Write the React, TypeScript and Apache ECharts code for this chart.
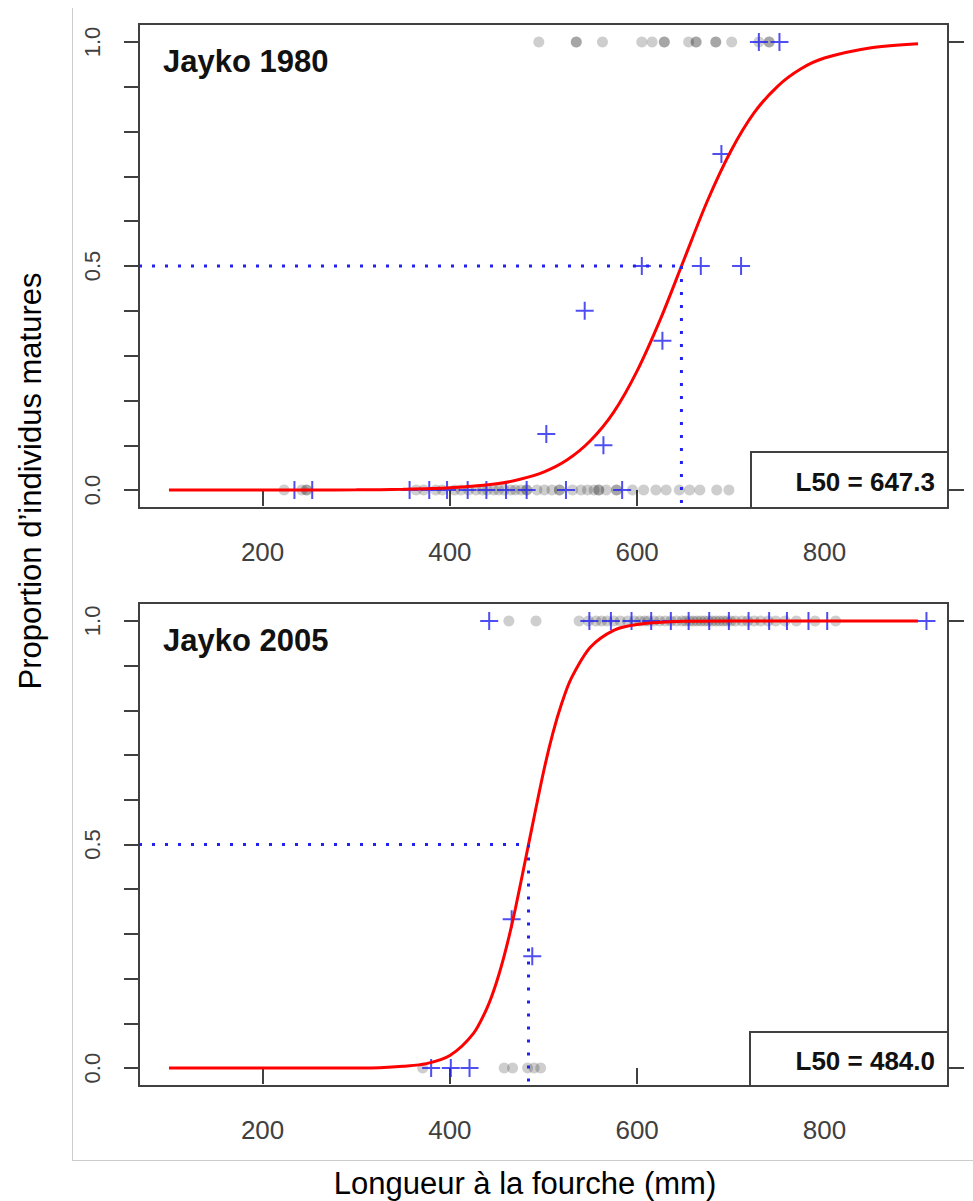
import React, { useEffect, useRef } from "react";
import * as echarts from "echarts";

// ---- Jayko 1980 ----
const L50_1980 = 647.3;
// fitted logistic maturity curve, read at these fork lengths
const fitLen1980 = [100, 150, 200, 250, 300, 350, 400, 450, 475, 500, 525, 550, 575, 600, 625, 650, 675, 700, 725, 750, 775, 800, 850, 900];
const fitProp1980 = [0, 0, 0.0001, 0.0002, 0.0006, 0.0017, 0.005, 0.014, 0.024, 0.04, 0.067, 0.11, 0.174, 0.266, 0.382, 0.514, 0.645, 0.756, 0.842, 0.901, 0.94, 0.964, 0.987, 0.996];
// individual fish (0 = immature, 1 = mature)
const fishMature1980 = [495, 535, 535, 563, 605, 616, 629, 629, 655, 663, 663, 684, 684, 701, 730, 741, 741];
const fishImmature1980 = [223, 242, 247, 247, 364, 372, 385, 392, 405, 412, 420, 428, 435, 440, 447, 452, 458, 465, 470, 476, 482, 482, 493, 501, 509, 517, 517, 531, 540, 547, 554, 559, 559, 567, 578, 578, 595, 607, 620, 631, 645, 656, 667, 685, 698];
// proportion mature per length class
const classLen1980 = [234, 253, 357, 378, 397, 419, 439, 460, 482, 524, 584, 503, 564, 544, 627, 605, 668, 711, 690, 730, 752];
const classProp1980 = [0, 0, 0, 0, 0, 0, 0, 0, 0, 0, 0, 0.125, 0.1, 0.4, 0.333, 0.5, 0.5, 0.5, 0.75, 1, 1];

// ---- Jayko 2005 ----
const L50_2005 = 484.0;
const fitLen2005 = [100, 200, 300, 325, 350, 375, 400, 425, 440, 450, 460, 470, 484, 500, 510, 520, 530, 550, 575, 600, 650, 700, 800, 900];
const fitProp2005 = [0, 0, 0.0004, 0.001, 0.004, 0.01, 0.028, 0.077, 0.136, 0.193, 0.267, 0.357, 0.5, 0.662, 0.749, 0.819, 0.873, 0.941, 0.979, 0.992, 0.999, 1, 1, 1];
const fishMature2005 = [463, 492, 538, 548, 556, 562, 568, 575, 582, 590, 597, 603, 608, 612, 618, 624, 630, 636, 642, 648, 652, 656, 660, 664, 668, 672, 676, 680, 684, 688, 692, 696, 700, 705, 712, 718, 725, 732, 740, 748, 758, 770, 790, 812];
const fishImmature2005 = [371, 458, 467, 483, 490, 497];
const classLen2005 = [380, 401, 421, 466, 488, 442, 549, 572, 594, 615, 636, 655, 677, 698, 719, 741, 760, 783, 803, 909];
const classProp2005 = [0, 0, 0, 0.333, 0.25, 1, 1, 1, 1, 1, 1, 1, 1, 1, 1, 1, 1, 1, 1, 1];

// axis ticks
const xTicks = [200, 400, 600, 800];
const yMinorTicks = [0, 0.1, 0.2, 0.3, 0.4, 0.5, 0.6, 0.7, 0.8, 0.9, 1];
const yLabels = [0, 0.5, 1];
const X_MIN = 68;
const X_MAX = 932;

const FONT = "Liberation Sans, Arial, sans-serif";
const AXIS_COLOR = "#404040";
const BLUE = "#2222f0";
const PLUS = "path://M0,-10V10M-10,0H10";

function panelSeries(
  idx: number,
  l50: number,
  fitLen: number[],
  fitProp: number[],
  mature: number[],
  immature: number[],
  clsLen: number[],
  clsProp: number[]
) {
  const fish = [...immature.map((v) => [v, 0]), ...mature.map((v) => [v, 1])];
  const dotted = { color: BLUE, width: 3, type: [3, 10] as number[], cap: "butt" as const };
  return [
    {
      type: "scatter",
      xAxisIndex: idx,
      yAxisIndex: idx * 2,
      data: fish,
      symbol: "circle",
      symbolSize: 11,
      itemStyle: { color: "rgba(0,0,0,0.24)" },
      z: 2,
    },
    {
      type: "scatter",
      xAxisIndex: idx,
      yAxisIndex: idx * 2,
      data: clsLen.map((v, i) => [v, clsProp[i]]),
      symbol: PLUS,
      symbolSize: 18,
      itemStyle: { color: "none", borderColor: BLUE, borderWidth: 2 },
      z: 3,
    },
    {
      type: "line",
      xAxisIndex: idx,
      yAxisIndex: idx * 2,
      data: fitLen.map((v, i) => [v, fitProp[i]]),
      showSymbol: false,
      smooth: 0.3,
      lineStyle: { color: "#ff0000", width: 3 },
      z: 4,
    },
    {
      type: "line",
      xAxisIndex: idx,
      yAxisIndex: idx * 2,
      data: [
        [X_MIN, 0.5],
        [l50, 0.5],
      ],
      showSymbol: false,
      lineStyle: dotted,
      z: 5,
    },
    {
      type: "line",
      xAxisIndex: idx,
      yAxisIndex: idx * 2,
      data: [
        [l50, 0.5],
        [l50, -0.03],
      ],
      showSymbol: false,
      lineStyle: dotted,
      z: 5,
    },
  ];
}

function xAxis(idx: number) {
  return {
    type: "value",
    gridIndex: idx,
    min: X_MIN,
    max: X_MAX,
    axisLine: { show: false },
    splitLine: { show: false },
    axisTick: { show: true, customValues: xTicks, length: 16, lineStyle: { color: AXIS_COLOR, width: 2 } },
    axisLabel: { customValues: xTicks, fontSize: 26, color: AXIS_COLOR, fontFamily: FONT, margin: 31 },
  };
}

function yAxes(idx: number) {
  return [
    {
      type: "value",
      gridIndex: idx,
      position: "left",
      min: -0.04,
      max: 1.04,
      axisLine: { show: false },
      splitLine: { show: false },
      axisTick: { show: true, customValues: yMinorTicks, length: 15, lineStyle: { color: AXIS_COLOR, width: 2 } },
      axisLabel: {
        customValues: yLabels,
        formatter: (v: number) => v.toFixed(1),
        rotate: 90,
        fontSize: 22,
        color: AXIS_COLOR,
        fontFamily: FONT,
        margin: 36,
      },
    },
    {
      type: "value",
      gridIndex: idx,
      position: "right",
      min: -0.04,
      max: 1.04,
      axisLine: { show: false },
      splitLine: { show: false },
      axisTick: { show: true, customValues: [0, 1], length: 16, lineStyle: { color: AXIS_COLOR, width: 2 } },
      axisLabel: { show: false },
    },
  ];
}

function l50Box(x: number, y: number, w: number, h: number, l50: number) {
  return [
    {
      type: "rect",
      shape: { x, y, width: w, height: h },
      style: { fill: "#ffffff", stroke: AXIS_COLOR, lineWidth: 2 },
      z: 100,
    },
    {
      type: "text",
      x: x + w - 13,
      y: y + h / 2 + 2,
      style: {
        text: `L50 = ${l50.toFixed(1)}`,
        font: `bold 26px ${FONT}`,
        fill: "#111111",
        textAlign: "right",
        textVerticalAlign: "middle",
      },
      z: 101,
    },
  ];
}

export default function App() {
  const ref = useRef<HTMLDivElement>(null);

  useEffect(() => {
    document.body.style.margin = "0";
    if (!ref.current) return;
    const chart = echarts.init(ref.current, undefined, { renderer: "svg" });
    chart.setOption({
      animation: false,
      backgroundColor: "#ffffff",
      grid: [
        { left: 139, top: 24, width: 809, height: 484, show: true, borderColor: AXIS_COLOR, borderWidth: 2, containLabel: false },
        { left: 139, top: 603, width: 809, height: 483, show: true, borderColor: AXIS_COLOR, borderWidth: 2, containLabel: false },
      ],
      xAxis: [xAxis(0), xAxis(1)],
      yAxis: [...yAxes(0), ...yAxes(1)],
      series: [
        ...panelSeries(0, L50_1980, fitLen1980, fitProp1980, fishMature1980, fishImmature1980, classLen1980, classProp1980),
        ...panelSeries(1, L50_2005, fitLen2005, fitProp2005, fishMature2005, fishImmature2005, classLen2005, classProp2005),
      ],
      graphic: [
        // light frame around the figure
        { type: "line", shape: { x1: 72.5, y1: 8, x2: 72.5, y2: 1160 }, style: { stroke: "#cccccc", lineWidth: 1 } },
        { type: "line", shape: { x1: 72, y1: 1160.5, x2: 973, y2: 1160.5 }, style: { stroke: "#cccccc", lineWidth: 1 } },
        // panel titles
        {
          type: "text",
          x: 163,
          y: 61,
          style: { text: "Jayko 1980", font: `bold 31px ${FONT}`, fill: "#111111", textVerticalAlign: "middle" },
          z: 100,
        },
        {
          type: "text",
          x: 163,
          y: 640,
          style: { text: "Jayko 2005", font: `bold 31px ${FONT}`, fill: "#111111", textVerticalAlign: "middle" },
          z: 100,
        },
        ...l50Box(751, 452, 197, 56, L50_1980),
        ...l50Box(750, 1032, 198, 54, L50_2005),
        // axis titles
        {
          type: "text",
          x: 30,
          y: 481,
          rotation: Math.PI / 2,
          style: {
            text: "Proportion d’individus matures",
            font: `31px ${FONT}`,
            fill: "#000000",
            textAlign: "center",
            textVerticalAlign: "middle",
          },
        },
        {
          type: "text",
          x: 525,
          y: 1183,
          style: {
            text: "Longueur à la fourche (mm)",
            font: `31px ${FONT}`,
            fill: "#000000",
            textAlign: "center",
            textVerticalAlign: "middle",
          },
        },
      ],
    });
    return () => chart.dispose();
  }, []);

  return <div ref={ref} style={{ width: 973, height: 1201 }} />;
}
